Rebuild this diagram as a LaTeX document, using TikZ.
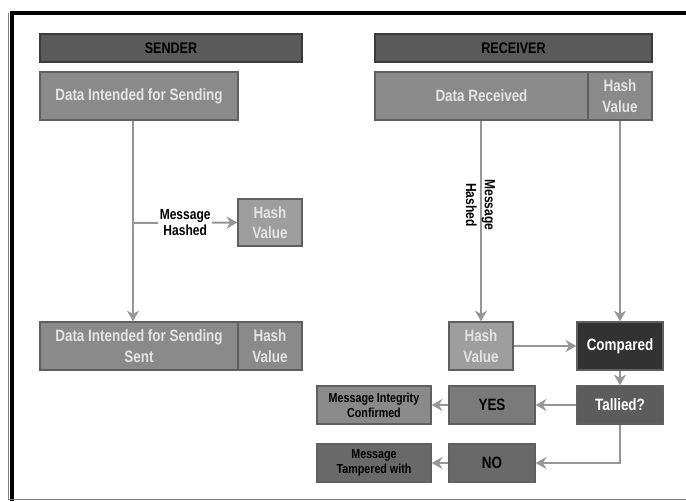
\documentclass[tikz,border=0pt]{standalone}
\usepackage{fontspec}
\setmainfont[FakeStretch=0.82]{Liberation Sans}
\usepackage{xcolor}
\usepackage{tikz}
\usetikzlibrary{arrows.meta}

\definecolor{headfill}{RGB}{90,90,90}
\definecolor{headline}{RGB}{60,60,60}
\definecolor{datafill}{RGB}{138,138,138}
\definecolor{boxline}{RGB}{95,95,95}
\definecolor{hashfill}{RGB}{158,158,158}
\definecolor{darkfill}{RGB}{50,50,50}
\definecolor{midfill}{RGB}{92,92,92}
\definecolor{yesfill}{RGB}{122,122,122}
\definecolor{nofill}{RGB}{105,105,105}
\definecolor{arrowgray}{RGB}{150,150,150}
\definecolor{lighttext}{RGB}{228,228,228}

\tikzset{
  box/.style={draw=boxline, line width=1pt, inner sep=0pt, align=center,
    font=\fontsize{12.3}{15.5}\selectfont\bfseries},
  headbox/.style={box, draw=headline, fill=headfill, minimum height=21pt,
    font=\fontsize{11.5}{13}\selectfont\bfseries},
  databox/.style={box, fill=datafill, text=lighttext, minimum height=36pt},
  smallbox/.style={box, minimum width=85.5pt, minimum height=28.5pt,
    font=\fontsize{9.8}{11.5}\selectfont\bfseries},
  flow/.style={draw=arrowgray, line width=1.5pt,
    -{Stealth[length=8pt,width=9pt,inset=2.5pt]}},
}

\begin{document}
\begin{tikzpicture}[x=0.75pt,y=0.75pt,yscale=-1,xscale=1]
            \path[use as bounding box] (0,0) rectangle (686,501);

            % frame
            \draw [line width=3pt] (12,501) -- (12,13) -- (686,13) ;
            \draw [color=gray, line width=0.75pt] (8.5,13) -- (8.5,499) -- (686,499) ;

            % sender side
            \node [headbox, minimum width=196.5pt] (sendHead) at (171,48) {SENDER};
            \node [databox, minimum width=148.5pt] (sendData) at (139,96) {Data Intended for Sending};
            \node [databox, fill=hashfill, minimum width=48pt, minimum height=35.25pt] (sendHash) at (270,222.5) {Hash\\Value};
            \node [databox, minimum width=148.5pt] (sentData) at (139,346) {Data Intended for Sending\\Sent};
            \node [databox, minimum width=48pt] (sentHash) at (270,346) {Hash\\Value};
            \coordinate (tap) at (133,223);

            % receiver side
            \node [headbox, minimum width=207.75pt] (recvHead) at (513.5,48) {RECEIVER};
            \node [databox, minimum width=159.75pt] (recvData) at (481.5,96) {Data Received};
            \node [databox, minimum width=48pt] (recvHash) at (620,96) {Hash\\Value};
            \node [databox, fill=hashfill, minimum width=48pt] (hashOut) at (481,346) {Hash\\Value};
            \node [databox, fill=darkfill, text=white, minimum width=64.5pt] (compared) at (620,346) {Compared};
            \node [databox, fill=midfill, text=white, minimum width=64.5pt, minimum height=28.5pt] (tallied) at (620,405) {Tallied?};
            \node [box, fill=yesfill, minimum width=64.5pt, minimum height=28.5pt] (yes) at (492,405) {YES};
            \node [box, fill=nofill, minimum width=64.5pt, minimum height=28.5pt] (no) at (492,463) {NO};
            \node [smallbox, fill=datafill] (confirmed) at (374,405) {Message Integrity\\Confirmed};
            \node [smallbox, fill=nofill] (tampered) at (374,463) {Message\\Tampered with};

            % connectors
            \draw [flow] (sendData.south -| tap) -- (sentData.north -| tap) ;
            \draw [flow] (tap) -- node [fill=white, inner sep=1pt, align=center, font=\fontsize{11}{12}\selectfont\bfseries] (hashLabel) {Message\\Hashed} (sendHash.west) ;
            \draw [flow] (recvData.south -| hashOut.north) -- (hashOut.north) ;
            \draw [flow] (recvHash.south) -- (compared.north) ;
            \draw [flow] (hashOut.east) -- (compared.west) ;
            \draw [flow] (compared.south) -- (tallied.north) ;
            \draw [flow] (tallied.west) -- (yes.east) ;
            \draw [flow] (yes.west) -- (confirmed.east) ;
            \draw [flow] (tallied.south) |- (no.east) ;
            \draw [flow] (no.west) -- (tampered.east) ;

            % Text Node
            \node [rotate=-90, align=center, inner sep=0pt, font=\fontsize{11}{14}\selectfont\bfseries] (recvLabel) at (480.5,205) {Message\\Hashed};

\end{tikzpicture}
\end{document}
